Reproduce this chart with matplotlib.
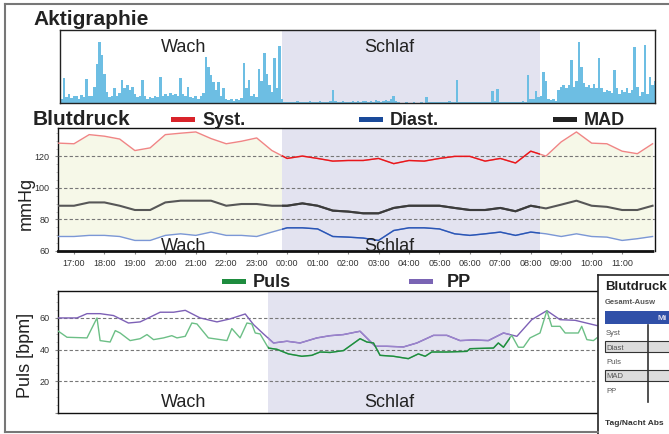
import numpy as np
import matplotlib.pyplot as plt
from matplotlib.patches import Rectangle
from matplotlib.lines import Line2D
from matplotlib.ticker import MultipleLocator

plt.rcParams['font.family'] = ['Liberation Sans', 'DejaVu Sans']

W, H = 669, 434

# Aktigraphie, 5-Minuten-Werte ab 16:32 (0..100 = Panelhoehe)
akt = [
    6, 34, 8, 12, 7, 10, 9, 6, 11, 8, 33, 9,
    10, 22, 54, 83, 66, 40, 15, 8, 10, 20, 9, 14,
    31, 20, 24, 18, 22, 12, 8, 10, 32, 9, 6, 8,
    7, 9, 8, 36, 10, 12, 9, 14, 11, 13, 10, 34,
    12, 9, 22, 8, 7, 10, 6, 9, 14, 63, 50, 38,
    29, 18, 29, 10, 20, 6, 4, 5, 3, 6, 4, 7,
    55, 20, 31, 9, 12, 8, 46, 30, 68, 40, 25, 15,
    61, 20, 78, 6, 2, 1, 2, 1, 2, 3, 1, 2,
    2, 1, 3, 2, 1, 2, 3, 2, 1, 2, 3, 18,
    3, 2, 2, 3, 2, 1, 2, 3, 2, 3, 2, 3,
    3, 2, 3, 2, 4, 3, 2, 3, 4, 3, 5, 10,
    3, 1, 0, 0, 1, 0, 0, 1, 0, 0, 1, 0,
    8, 2, 1, 2, 1, 2, 1, 2, 1, 3, 2, 2,
    31, 2, 1, 2, 1, 1, 2, 1, 2, 1, 2, 1,
    1, 2, 17, 3, 19, 2, 1, 2, 1, 2, 1, 2,
    2, 1, 3, 2, 39, 5, 6, 17, 8, 10, 43, 30,
    5, 4, 6, 3, 18, 22, 24, 20, 25, 59, 22, 30,
    83, 50, 28, 22, 24, 20, 26, 21, 62, 20, 15, 18,
    16, 14, 45, 20, 12, 18, 15, 20, 14, 18, 77, 22,
    10, 15, 79, 12, 36, 25, 30,
]

# Blutdruck, halbstuendlich 16:30 .. 12:00 (Stunden > 24 = naechster Tag)
bp_zeit = np.arange(16.5, 36.5, 0.5)
syst = [128.4, 128, 133.8, 132.8, 131, 123.7, 125.4, 133.8, 134.7, 135.5,
        131.3, 128, 129.6, 131.7, 123.7, 118.7, 120.2, 118.7, 117, 117.4,
        117.4, 118.7, 115.4, 117.4, 117, 118.7, 120, 120, 117, 118.7,
        115.8, 123.3, 120.2, 129.2, 135.5, 128.4, 128, 123.3, 121.7, 128]
diast = [69.2, 69.2, 69.9, 69.9, 69.2, 66.7, 66.7, 69.9, 70.9, 69.9,
         72, 69.9, 69.9, 69.2, 72, 74.7, 74.7, 74, 69.2, 68.8,
         68.2, 66.7, 73, 74.7, 74.7, 74, 70.9, 69.9, 70.9, 72,
         69.9, 72, 70.9, 69.2, 70.9, 69.2, 68.8, 66.7, 67.8, 69.2]
mad = [88.7, 88.7, 90.8, 90.8, 88.7, 86, 86, 90.8, 91.9, 91.9,
       91.9, 88.7, 89.8, 89.8, 88.7, 88.7, 90.2, 88.7, 85.6, 85,
       83.9, 83.9, 87.3, 88.7, 88.7, 88.7, 87.3, 86, 86, 87.3,
       85.2, 88.7, 87, 89.4, 91.9, 88.7, 88, 86, 86, 88.7]

# Puls und Pulsdruck
puls_zeit = [16.49, 16.79, 17.49, 17.84, 17.95, 18.30, 18.48, 18.65, 19.0, 19.35,
             19.59, 19.82, 20.17, 20.46, 20.64, 20.93, 21.16, 21.34, 21.74, 22.39,
             22.56, 22.85, 23.09, 23.26, 23.38, 23.55, 23.84, 24.14, 24.54, 25.01,
             25.36, 25.65, 26.0, 26.47, 27.05, 27.29, 27.52, 27.75, 28.22, 28.74,
             29.09, 29.33, 29.56, 30.09, 30.79, 30.90, 31.72, 31.89, 32.07, 32.36,
             32.59, 32.77, 33.0, 33.35, 33.59, 33.76, 34.05, 34.23, 34.69, 34.81,
             34.99, 35.22, 35.34]
puls = [51.6, 47.8, 47.4, 60, 45.7, 44.8, 52, 50.5, 45.7, 46.9,
        49.5, 46.3, 47.4, 48.8, 47.4, 48.4, 56.8, 56.2, 47.4, 45.7,
        53.3, 47.4, 56.8, 56.2, 50.5, 49.9, 41, 40.2, 37.3, 35.8,
        36.4, 38.5, 38.2, 39.4, 46.9, 44.8, 44.2, 36.4, 35.8, 34.3,
        37.3, 35.8, 38.5, 38.5, 38.9, 40.6, 41, 44.2, 41.5, 49,
        41.5, 41.5, 47.4, 50.5, 64.6, 54.7, 54.7, 50.5, 50.5, 54.7,
        46.3, 45.7, 47.4]
pp_zeit = [16.49, 17.14, 17.49, 17.95, 18.42, 18.94, 19.35, 19.64, 20.05, 20.52,
           20.93, 21.45, 22.04, 22.50, 23.03, 23.32, 23.67, 24.02, 24.49, 24.95,
           25.54, 26.0, 26.47, 27.05, 27.58, 27.99, 28.57, 29.04, 29.62, 30.09,
           30.55, 31.02, 31.54, 32.07, 32.54, 33.06, 33.59, 34.05, 34.58, 35.34]
pp = [60, 60, 62.7, 62.7, 61.5, 56.8, 57.5, 60, 63.6, 63.6,
      64.8, 60, 57.5, 59.4, 62.5, 55.8, 49.9, 44.2, 45.3, 44.2,
      47.4, 48.8, 49.5, 51.6, 42.1, 42.1, 41.7, 44.2, 49, 49,
      45.7, 46.1, 45.7, 50.5, 48.4, 58.9, 64.6, 58.9, 58.5, 55.2]

schlaf = (23.83, 32.30)
stunden = list(range(17, 36))
tab_zeilen = ['Syst', 'Diast', 'Puls', 'MAD', 'PP']

lila = '#e3e3f0'


def box(x0, y0, x1, y1):
    return [x0 / W, 1 - y1 / H, (x1 - x0) / W, (y1 - y0) / H]


def fx(x):
    return x / W


def fy(y):
    return 1 - y / H


def zweifarbig(ax, x, y, hell, dunkel, lw):
    # wach heller, im Schlafbereich dunkler
    ax.plot(x, y, color=hell, lw=lw, zorder=4, solid_joinstyle='round')
    ln, = ax.plot(x, y, color=dunkel, lw=lw, zorder=5, solid_joinstyle='round')
    r = Rectangle((schlaf[0], -1000), schlaf[1] - schlaf[0], 3000, transform=ax.transData)
    ln.set_clip_path(r)


fig = plt.figure(figsize=(W / 100, H / 100), dpi=100)

# --- Aktigraphie
ax1 = fig.add_axes(box(60, 30, 655, 103))
ax1.set_xlim(16.54, 36.08)
ax1.set_ylim(0, 100)
ax1.axvspan(*schlaf, color=lila, lw=0, zorder=0)
ax1.bar(16.54 + np.arange(len(akt)) / 12, akt, width=1 / 12, align='edge',
        color='#6dbee3', lw=0, zorder=2)
ax1.set_xticks([])
ax1.set_yticks([])
for s in ax1.spines.values():
    s.set_color('#222')
    s.set_linewidth(1)

# --- Blutdruck
ax2 = fig.add_axes(box(58, 128, 655, 251))
ax2.set_xlim(16.475, 36.08)
ax2.set_ylim(60, 138)
ax2.fill_between(bp_zeit, diast, syst, color='#f6f8e8', lw=0, zorder=1)
ax2.axvspan(*schlaf, color=lila, lw=0, zorder=2)
for v in [80, 100, 120]:
    ax2.axhline(v, color='#777', lw=0.8, ls=(0, (3, 2)), zorder=3)
zweifarbig(ax2, bp_zeit, syst, '#f08585', '#e8161c', 1.0)
zweifarbig(ax2, bp_zeit, diast, '#7b97d6', '#2a55b5', 1.0)
zweifarbig(ax2, bp_zeit, mad, '#575757', '#3c3c3c', 1.5)
ax2.set_yticks([60, 80, 100, 120])
ax2.yaxis.set_minor_locator(MultipleLocator(5))
ax2.set_xticks(stunden)
ax2.set_xticklabels(['%02d:00' % (h % 24) for h in stunden])
ax2.tick_params(axis='both', labelsize=6.5, labelcolor='#333', color='#888',
                length=2.5, width=0.8)
ax2.tick_params(axis='x', pad=4, length=2)
ax2.tick_params(axis='y', which='minor', length=1.5, color='#bbb')
for s in ax2.spines.values():
    s.set_color('#111')
    s.set_linewidth(1)
ax2.spines['bottom'].set_linestyle((0, (1.5, 1)))
ax2.spines['bottom'].set_linewidth(2)

# --- Puls
ax3 = fig.add_axes(box(58, 291, 618, 413))
ax3.set_xlim(16.475, 36.08)
ax3.set_ylim(0, 77)
ax3.axvspan(*schlaf, color=lila, lw=0, zorder=2)
for v in [20, 40, 60]:
    ax3.axhline(v, color='#777', lw=0.8, ls=(0, (3, 2)), zorder=3)
zweifarbig(ax3, pp_zeit, pp, '#7d60b6', '#9a84cc', 1.0)
zweifarbig(ax3, puls_zeit, puls, '#6cbf86', '#1f8c3e', 1.0)
ax3.set_xticks([])
ax3.set_yticks([0, 20, 40, 60])
ax3.set_yticklabels(['', '20', '40', '60'])
ax3.yaxis.set_minor_locator(MultipleLocator(5))
ax3.tick_params(axis='y', labelsize=6.5, labelcolor='#333', color='#888',
                length=2.5, width=0.8)
ax3.tick_params(axis='y', which='minor', length=1.5, color='#bbb')
for s in ax3.spines.values():
    s.set_color('#111')
    s.set_linewidth(1)

# --- Titel, Legenden, Beschriftungen
fig.text(fx(33), fy(25), 'Aktigraphie', fontsize=15, fontweight='bold', color='#222', va='baseline')
fig.text(fx(33), fy(125), 'Blutdruck', fontsize=15, fontweight='bold', color='#222', va='baseline')

for name, col, px, y in [('Syst.', '#d9232a', 171, 125), ('Diast.', '#1a4a9a', 359, 125),
                         ('MAD', '#222222', 553, 125), ('Puls', '#1e8c3e', 222, 287),
                         ('PP', '#7a64b4', 409, 287)]:
    fig.add_artist(Rectangle((fx(px), fy(y - 3)), 24 / W, 5 / H,
                             transform=fig.transFigure, color=col, lw=0))
    tx = px + 31 if name != 'PP' else px + 38
    fig.text(fx(tx), fy(y), name, fontsize=13, fontweight='bold', color='#222', va='baseline')

for yb in [52, 251, 407]:
    fig.text(fx(184), fy(yb), 'Wach', fontsize=13, color='#222', ha='center', va='baseline')
    fig.text(fx(389), fy(yb), 'Schlaf', fontsize=13, color='#222', ha='center', va='baseline')

fig.text(fx(26), fy(203), 'mmHg', fontsize=13, color='#222', rotation=90, ha='center', va='center')
fig.text(fx(26), fy(355), 'Puls [bpm]', fontsize=13, color='#222', rotation=90, ha='center', va='center')

# Rahmen
for xs, ys in [([5, 669], [4, 4]), ([5, 5], [4, 432]), ([5, 598], [432, 432])]:
    fig.add_artist(Line2D([fx(v) for v in xs], [fy(v) for v in ys],
                          transform=fig.transFigure, color='#777', lw=1.5))

# --- Tabelle rechts unten (angeschnitten)
ax4 = fig.add_axes(box(598, 275, 672, 437))
ax4.set_xlim(0, 74)
ax4.set_ylim(162, 0)
ax4.set_facecolor('white')
ax4.set_xticks([])
ax4.set_yticks([])
ax4.spines['right'].set_visible(False)
ax4.spines['bottom'].set_visible(False)
for k in ['left', 'top']:
    ax4.spines[k].set_color('#222')
    ax4.spines[k].set_linewidth(1.2)
ax4.text(7, 15, 'Blutdruck', fontsize=9.5, fontweight='bold', color='#222', va='baseline')
ax4.text(7, 29, 'Gesamt-Ausw', fontsize=5.5, fontweight='bold', color='#555', va='baseline')
ax4.add_patch(Rectangle((7, 36), 80, 13, color='#3050a8', lw=0))
ax4.text(59, 45, 'Mi', fontsize=6, fontweight='bold', color='#dde', va='baseline')
for i, z in enumerate(tab_zeilen):
    yb = 60 + i * 14.5
    if i in (1, 3):
        ax4.add_patch(Rectangle((7, yb - 9), 80, 11, facecolor='#dcdcdc', edgecolor='#333', lw=0.8))
    ax4.text(8, yb, z, fontsize=5.5, color='#555', va='baseline')
ax4.plot([50, 50], [50, 127], color='#333', lw=1.2)
ax4.text(7, 150, 'Tag/Nacht Abs', fontsize=6, fontweight='bold', color='#333', va='baseline')

fig.savefig('out.png', dpi=100)
